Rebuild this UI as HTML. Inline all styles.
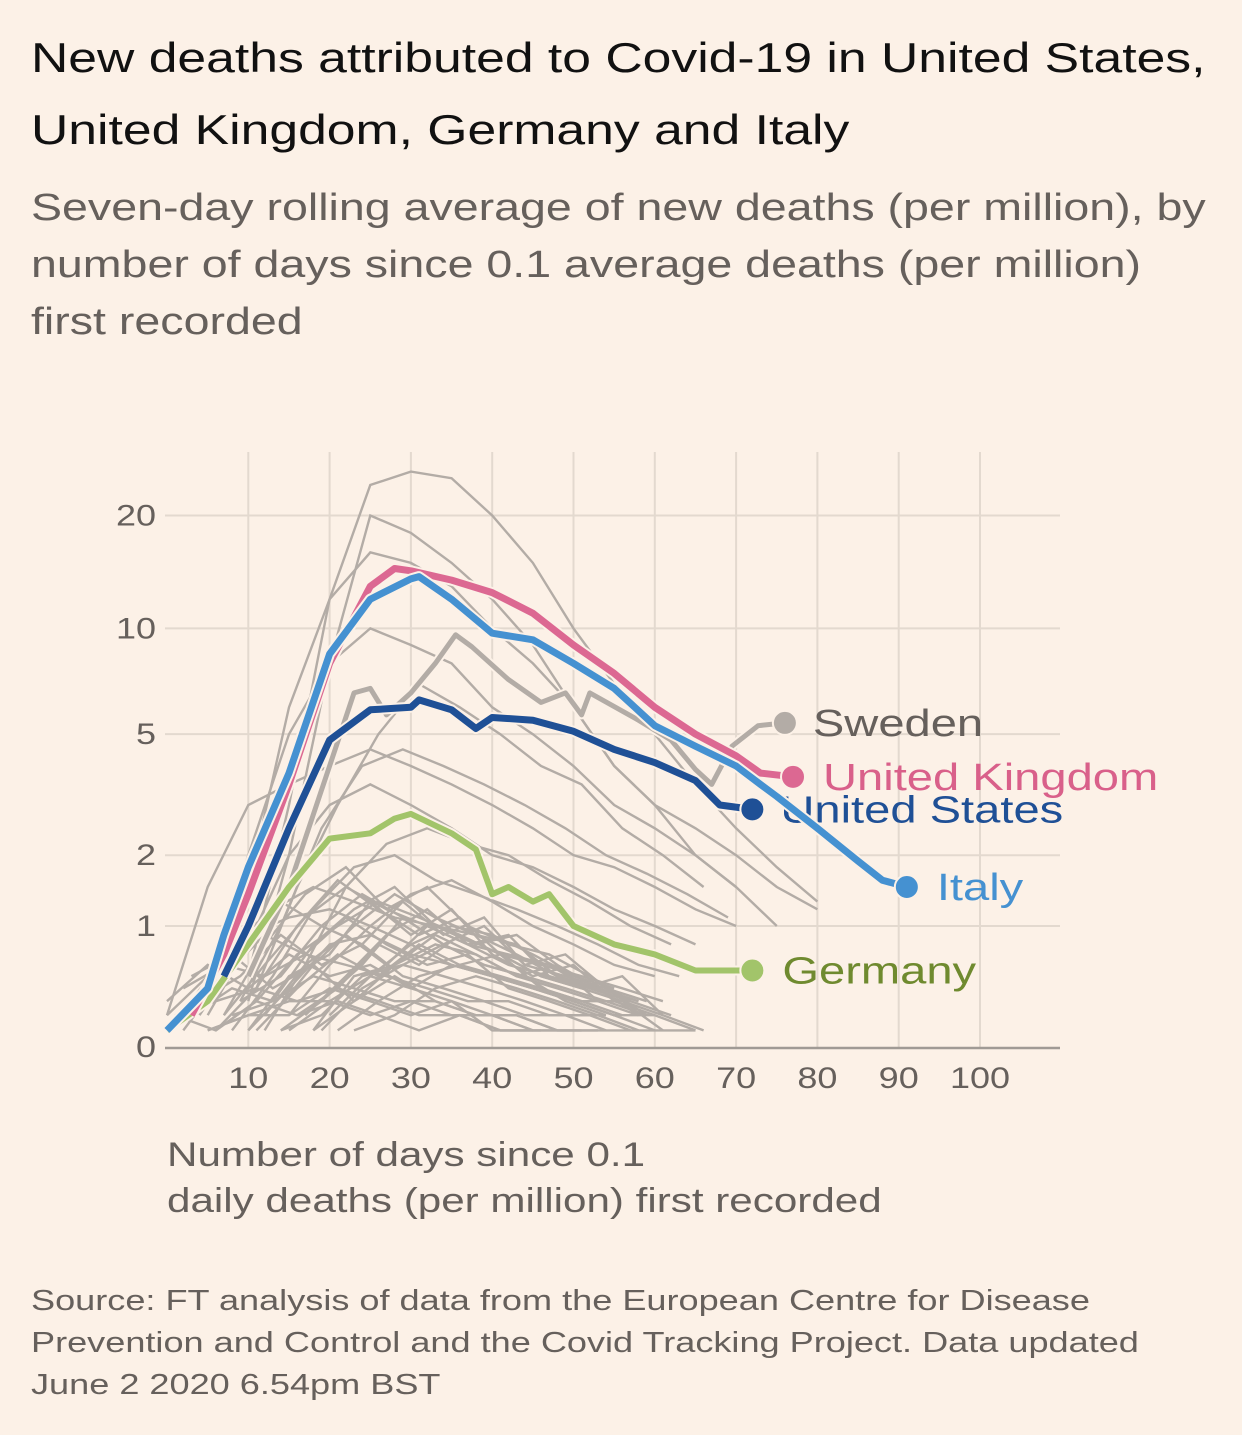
<!DOCTYPE html>
<html><head><meta charset="utf-8">
<style>
body{margin:0;background:#fcf1e7;font-family:"Liberation Sans","DejaVu Sans",sans-serif;}
#wrap{position:relative;width:1242px;height:1435px;overflow:hidden;background:#fcf1e7;}
.t{position:absolute;left:31px;white-space:nowrap;transform-origin:0 0;}
</style></head><body>
<div id="wrap">
<div class="t" style="top:22px;font-size:42px;line-height:72px;color:#111;transform:scaleX(1.23);">New deaths attributed to Covid-19 in United States,<br>United Kingdom, Germany and Italy</div>
<div class="t" style="top:180px;font-size:38px;line-height:57px;color:#66605c;transform:scaleX(1.225);">Seven-day rolling average of new deaths (per million), by<br>number of days since 0.1 average deaths (per million)<br>first recorded</div>
<svg id="chart" width="1242" height="1435" style="position:absolute;left:0;top:0"></svg>
<div class="t" style="left:167px;top:1132px;font-size:34px;line-height:46px;color:#66605c;transform:scaleX(1.24);">Number of days since 0.1<br>daily deaths (per million) first recorded</div>
<div class="t" style="top:1280px;font-size:29px;line-height:42px;color:#66605c;transform:scaleX(1.245);">Source: FT analysis of data from the European Centre for Disease<br>Prevention and Control and the Covid Tracking Project. Data updated<br>June 2 2020 6.54pm BST</div>
</div>
<script>
const xTicks=[10,20,30,40,50,60,70,80,90,100];
const yTicks=[0,1,2,5,10,20];
const italyDays=[0,5,7,10,15,20,25,30,31,35,40,45,50,55,60,65,70,73,75,80,85,88,91];
const italyVals=[0.1,0.4,0.9,1.8,3.8,8.5,12,13.6,13.8,12,9.7,9.3,8,6.8,5.3,4.6,4.0,3.5,3.2,2.5,1.9,1.6,1.5];
const ukDays=[3,7,10,15,20,25,28,30,35,40,45,50,55,60,65,70,73,77];
const ukVals=[0.2,0.7,1.4,3.5,8,13,14.5,14.3,13.5,12.5,11,9,7.5,6,5,4.3,3.8,3.7];
const usDays=[7,10,15,20,25,30,31,35,38,40,45,50,55,60,65,68,72];
const usVals=[0.5,1.0,2.5,4.8,5.9,6.0,6.3,5.9,5.2,5.6,5.5,5.1,4.5,4.1,3.6,3.0,2.9];
const deDays=[0,5,10,15,20,25,28,30,35,38,40,42,45,47,50,55,60,65,70,72];
const deVals=[0.1,0.3,0.8,1.5,2.3,2.4,2.7,2.8,2.4,2.1,1.4,1.5,1.3,1.4,1.0,0.8,0.7,0.55,0.55,0.55];
const seDays=[10,15,20,23,25,27,30,33,35.5,37.5,42,46,49,51,52,58,62,65,67,69.5,72.7,76];
const seVals=[0.5,1.5,4,6.6,6.8,5.7,6.6,8.0,9.6,8.9,7.2,6.2,6.6,5.7,6.6,5.5,4.8,3.9,3.5,4.6,5.3,5.4];
const greyStarts=[10,10,5,5,0,5,8,3,12,0,6,15,2,10,4,18,7,1,14,9,3,20,11,5,0,2,4,6,8,10,12,14,16,18,1,3,5,7,9,11,13,15,17,19,21,23];
const grey0=[0.5,3,12,24,26,25,20,15,10,7,5,3.5,2.5,1.8,1.3];
const grey1=[0.3,2,8,20,18,15,12,9,6,4,3,2,1.5,1];
const grey2=[0.3,1.5,6,12,16,15,13,10,8,6,4,3,2.5,2,1.5,1.2];
const grey3=[0.5,2,5,8,10,9,8,6,5,4,3,2.5,2,1.5];
const grey4=[0.2,1.5,3,3.5,4,4.5,4,3.5,3,2.5,2,1.8,1.5,1.2,1];
const grey5=[0.2,0.8,2,3,3.5,3,2.5,2,1.8,1.5,1.2,1,0.8];
const grey6=[0.1,0.5,1.2,1.8,2,1.6,1.4,1.2,1,0.8,0.6,0.5];
const grey7=[0.3,0.8,1.2,1.5,1.3,1.1,1,0.9,0.7,0.5,0.4,0.3];
const grey8=[0.1,0.6,1.5,2.2,2.5,2.2,2,1.6,1.3,1,0.8];
const grey9=[0.2,0.5,0.9,1.1,1.2,1,0.8,0.6,0.5,0.4,0.3,0.2,0.2];
const grey10=[0.1,0.3,0.7,1.0,1.3,1.1,0.9,0.7,0.6,0.5,0.4,0.3];
const grey11=[0.2,0.6,1,1.4,1.6,1.3,1,0.8,0.6,0.5];
const grey12=[0.4,0.6,0.5,0.7,0.6,0.5,0.4,0.3,0.3,0.2,0.2];
const grey13=[0.1,0.4,0.8,0.9,0.7,0.6,0.5,0.4,0.3,0.2];
const grey14=[0.3,0.5,0.9,0.6,0.8,0.5,0.4,0.3,0.2,0.2,0.1];
const grey15=[0.1,0.3,0.6,0.8,0.7,0.5,0.4,0.3];
const grey16=[0.2,0.6,1.1,1.5,1.2,1,0.8,0.6,0.5,0.4];
const grey17=[0.2,0.3,0.4,0.3,0.4,0.3,0.2,0.2,0.1,0.1,0.1];
const grey18=[0.1,0.2,0.5,0.6,0.5,0.4,0.3,0.2,0.2];
const grey19=[0.3,1,2.5,4,4.5,4,3.5,3,2.5,2,1.7,1.4,1.1];
const grey20=[0.2,0.4,0.3,0.5,0.4,0.3,0.3,0.2,0.2,0.1,0.1];
const grey21=[0.2,0.5,0.8,1,0.9,0.7,0.5,0.4];
const grey22=[0.4,1.5,3,5,7,6,5,4,3.5,2.5,2,1.5];
const grey23=[0.1,0.2,0.3,0.3,0.2,0.3,0.2,0.2,0.1,0.1,0.1,0.1,0.1];
const grey24=[0.3,0.6,0.4,0.7,0.5,0.6,0.4,0.3,0.2,0.1];
const grey25=[0.1,0.5,0.9,0.7,1.1,0.8,0.6,0.7,0.4,0.3,0.2,0.1];
const grey26=[0.2,0.7,1.3,1.0,1.4,1.1,0.8,0.6,0.5,0.3,0.2];
const grey27=[0.1,0.4,1.0,1.6,1.2,0.9,1.1,0.7,0.5,0.4,0.3,0.2];
const grey28=[0.2,0.3,0.8,1.2,1.5,1.0,0.8,0.9,0.6,0.4,0.2];
const grey29=[0.1,0.5,0.7,1.3,0.9,1.2,0.7,0.5,0.6,0.3,0.2,0.1];
const grey30=[0.2,0.6,0.9,0.6,1.0,0.8,0.9,0.5,0.4,0.3,0.2];
const grey31=[0.1,0.3,0.6,1.1,0.8,1.0,0.6,0.7,0.4,0.3];
const grey32=[0.2,0.4,0.8,0.6,0.9,0.7,0.5,0.4,0.5,0.2,0.1];
const grey33=[0.1,0.5,0.6,0.9,0.7,0.5,0.6,0.3,0.2];
const grey34=[0.2,0.1,0.3,0.2,0.3,0.2,0.1,0.2,0.1,0.1];
const grey35=[0.5,0.7,0.4,0.6,0.3,0.5,0.3,0.2,0.2,0.1];
const grey36=[0.1,0.2,0.2,0.4,0.3,0.2,0.3,0.1,0.1];
const grey37=[0.2,0.8,1.4,1.8,1.2,1.5,1.0,0.8,0.7,0.5,0.3];
const grey38=[0.3,0.5,1.0,0.8,1.3,0.9,1.1,0.6,0.5,0.4,0.2];
const grey39=[0.1,0.4,0.7,0.5,0.8,0.6,0.7,0.4,0.3,0.3,0.1];
const grey40=[0.2,0.6,1.0,1.4,1.1,0.9,0.8,0.5,0.4,0.3];
const grey41=[0.1,0.3,0.5,0.4,0.6,0.5,0.4,0.3,0.2,0.1];
const grey42=[0.2,0.5,0.9,1.2,0.8,0.7,0.6,0.4,0.3];
const grey43=[0.1,0.4,0.6,0.8,0.6,0.5,0.4,0.3,0.2];
const grey44=[0.1,0.3,0.5,0.6,0.5,0.4,0.3,0.2];
const grey45=[0.1,0.2,0.4,0.5,0.4,0.3,0.2,0.1];
const greyVals=[grey0,grey1,grey2,grey3,grey4,grey5,grey6,grey7,grey8,grey9,grey10,grey11,grey12,grey13,grey14,grey15,grey16,grey17,grey18,grey19,grey20,grey21,grey22,grey23,grey24,grey25,grey26,grey27,grey28,grey29,grey30,grey31,grey32,grey33,grey34,grey35,grey36,grey37,grey38,grey39,grey40,grey41,grey42,grey43,grey44,grey45];

const NS='http://www.w3.org/2000/svg';
const svg=document.getElementById('chart');
const X0=167,XS=8.13,Y0=1047,YS=402;
function xs(d){return X0+d*XS;}
function ys(v){return Y0-YS*Math.log10(v+1);}
function mk(tag,attrs,parent){const e=document.createElementNS(NS,tag);for(const k in attrs)e.setAttribute(k,attrs[k]);(parent||svg).appendChild(e);return e;}

xTicks.forEach(t=>{
  const l=mk('line',{x1:xs(t),x2:xs(t),y1:452,y2:1047,stroke:'#e3d9cf','stroke-width':2});
  
  
  const tx=mk('text',{transform:'translate('+xs(t)+',1088) scale(1.2,1)','text-anchor':'middle','font-size':30,fill:'#66605c'});
  tx.textContent=t;
  
  
});
yTicks.forEach(t=>{
  if(t>0){const l=mk('line',{x1:165,x2:1060,y1:ys(t),y2:ys(t),stroke:'#e3d9cf','stroke-width':2});
  
  }
  const tx=mk('text',{transform:'translate(156,'+(ys(t)+10)+') scale(1.2,1)','text-anchor':'end','font-size':30,fill:'#66605c'});
  tx.textContent=t;
  
  
});
const ax=mk('line',{x1:165,x2:1060,y1:1048,y2:1048,stroke:'#a09a95','stroke-width':2.5});



function pathFrom(days,vals){return days.map((d,i)=>(i?'L':'M')+xs(d).toFixed(1)+','+ys(vals[i]).toFixed(1)).join('');}
greyVals.forEach((vals,gi)=>{
  const days=vals.map((v,i)=>greyStarts[gi]+i*5);
  const p=mk('path',{d:pathFrom(days,vals),fill:'none',stroke:'#b3aca6','stroke-width':2.4});
  
  
});
const series=[
 {n:'sweden',d:seDays,v:seVals,c:'#b3aca6',w:5,lab:'Sweden',lc:'#66605c',dx:28},
 {n:'germany',d:deDays,v:deVals,c:'#a2c46a',w:6,lab:'Germany',lc:'#6f8a2f',dx:30},
 {n:'united-kingdom',d:ukDays,v:ukVals,c:'#dc6892',w:7,lab:'United Kingdom',lc:'#d9608a',dx:30},
 {n:'united-states',d:usDays,v:usVals,c:'#1f5096',w:7,lab:'United States',lc:'#1f5096',dx:28},
 {n:'italy',d:italyDays,v:italyVals,c:'#4591d1',w:7,lab:'Italy',lc:'#4591d1',dx:30}
];
series.forEach(s=>{
  const g=mk('g',{});
  
  
  mk('path',{d:pathFrom(s.d,s.v),fill:'none',stroke:'#fcf1e7','stroke-width':s.w+4,'stroke-linejoin':'round'},g);
  const p=mk('path',{d:pathFrom(s.d,s.v),fill:'none',stroke:s.c,'stroke-width':s.w,'stroke-linejoin':'round'},g);
  
  
  const li=s.d.length-1,cx=xs(s.d[li]),cy=ys(s.v[li]);
  const c=mk('circle',{cx:cx,cy:cy,r:12,fill:s.c,stroke:'#fcf1e7','stroke-width':2},g);
  
  
  const t=mk('text',{transform:'translate('+(cx+s.dx)+','+(cy+13)+') scale(1.24,1)','font-size':38,fill:s.lc},g);
  t.textContent=s.lab;
  
  
});
</script>
</body></html>
